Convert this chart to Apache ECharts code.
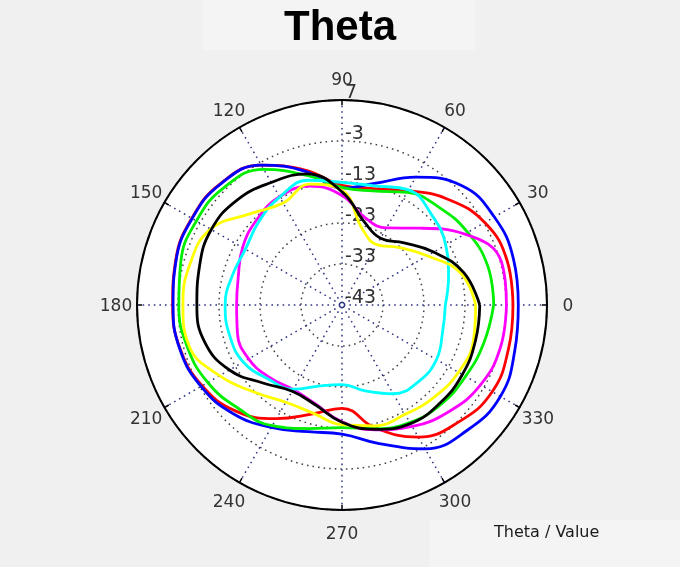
<!DOCTYPE html>
<html><head><meta charset="utf-8">
<script src="https://cdn.jsdelivr.net/npm/echarts@6/dist/echarts.min.js"></script>
<style>html,body{margin:0;padding:0;background:#f0f0f0;}#c{width:680px;height:567px;}</style>
</head><body><div id="c"></div>
<script>
const angles = [0,15,30,45,60,75,90,105,120,135,150,165,180,195,210,225,240,255,270,285,300,315,330,345];
const blue    = [0, 0.3, -0.1, -1.8, -7.0, -12.3, -14.5, -9.3, -3.6, -1.2, -0.8, -1.1, -1.8, -2.0, -3.3, -5.5, -8.5, -11, -11.5, -8, -2.5, 0.2, 1.6, 0.6];
const red     = [-1.3, -1.3, -2.8, -6.5, -10.8, -13.6, -13.8, -9, -3.6, -1.1, -0.7, -1.0, -1.7, -2.1, -3.6, -6.4, -11, -15.5, -17.8, -12, -5.8, -2.7, -0.7, -1.0];
const green   = [-6.0, -6.2, -7.6, -9.4, -11.3, -14.2, -14.3, -10.3, -4.8, -2.4, -2.0, -2.3, -3.2, -3.9, -5.2, -7.3, -9.0, -11.8, -13.1, -11.8, -9.9, -8.8, -8.2, -7.2];
const magenta = [-2.9, -2.7, -8.4, -16.5, -21.3, -21, -16.3, -13, -12.5, -13.6, -15.0, -16.8, -17.3, -16.6, -16.7, -18, -19.2, -18, -14.5, -11.5, -8.8, -6.2, -4.0, -3.0];
const yellow  = [-10.4, -13, -19, -23.2, -26, -23.8, -15, -12.5, -14.3, -11.5, -6.0, -4.6, -4.2, -4.4, -8.5, -12.9, -15.6, -15.7, -13.8, -12.5, -12.2, -11.2, -10.2, -9.8];
const cyan    = [-17.8, -16.1, -13.8, -12, -10.6, -12.9, -13.1, -11.5, -12.6, -14.3, -15.8, -15.3, -14.5, -14.6, -15.2, -17.5, -19.3, -22.6, -23.6, -21.3, -18, -16.6, -16.4, -17.6];
const black   = [-9.4, -12.3, -17.2, -21.6, -24.2, -22, -15.4, -9.9, -8.5, -6.8, -6.2, -7.0, -7.6, -8.3, -11.3, -16, -18.7, -17.8, -14.4, -11.6, -9.6, -9.2, -9.1, -9.3];
const radiusMin = -43, radiusMax = 7, radiusStep = 10;
const angleStep = 30;

const seriesDefs = [
  ['red', red, '#ff0000'],
  ['blue', blue, '#0000ff'],
  ['green', green, '#00ee00'],
  ['magenta', magenta, '#ff00ff'],
  ['cyan', cyan, '#00ffff'],
  ['yellow', yellow, '#ffff00'],
  ['black', black, '#000000']
];
function closed(vals){
  const d = angles.map((a,i)=>[vals[i], a]);
  d.push([vals[0], 360]);
  return d;
}
const chart = echarts.init(document.getElementById('c'));
const center = [342, 305], R = 205;
const dotted = [1.6, 4];
const font = '"DejaVu Sans", sans-serif';
const lab = {align:'center', verticalAlign:'middle', color:'#333', fontSize:17, fontFamily:font};
function labelStyle(v){
  if (v === 0 || v === 180) return 'h';
  if (v === 90) return 'vt';
  if (v === 270) return 'vb';
  if (v === 30 || v === 150) return 'd1t';
  if (v === 210 || v === 330) return 'd1b';
  if (v === 60 || v === 120) return 'd2t';
  return 'd2b';
}
chart.setOption({
  backgroundColor: '#f0f0f0',
  animation: false,
  graphic: [
    {type:'rect', shape:{x:203,y:0,width:272,height:50}, style:{fill:'#f4f4f4'}, z:-10},
    {type:'rect', shape:{x:430,y:520,width:250,height:47}, style:{fill:'#f4f4f4'}, z:-10},
    {type:'circle', shape:{cx:center[0], cy:center[1], r:R}, style:{fill:'#ffffff'}, z:-5},
    {type:'text', left: 494, top: 525, style:{text:'Theta / Value', fill:'#1a1a1a', font:'16px ' + font}}
  ],
  title: {text:'Theta', left:'center', top: 2, textStyle:{fontSize:42, fontWeight:'bold', color:'#000', fontFamily:'"Liberation Sans", Arial, sans-serif'}},
  polar: [{center: center, radius: R}, {center: center, radius: R}],
  angleAxis: [{
    polarIndex: 0, type:'value', min:0, max:360, interval: angleStep, startAngle:0, clockwise:false,
    axisLine:{show:true, lineStyle:{color:'#000', width:2}},
    axisTick:{show:true, inside:true, length:5, lineStyle:{color:'#000', width:1.5}},
    axisLabel:{margin:5, color:'#333', fontSize:17, fontFamily:font,
      formatter: v => v === 360 ? '' : '{' + labelStyle(v) + '|' + v + '}',
      rich:{
        h: Object.assign({width:32, height:20, padding:[3,0,0,0]}, lab),
        vt: Object.assign({width:32, height:28}, lab),
        vb: Object.assign({width:32, height:40}, lab),
        d1t: Object.assign({width:28, height:12}, lab),
        d1b: Object.assign({width:28, height:20}, lab),
        d2t: Object.assign({width:16, height:24}, lab),
        d2b: Object.assign({width:16, height:32}, lab)
      }},
    splitLine:{show:true, lineStyle:{type:dotted, color:'#2e3580', width:1.5}}
  },{
    polarIndex: 1, type:'value', min:0, max:360, startAngle:90, clockwise:false, show:false
  }],
  radiusAxis: [{
    polarIndex: 0, type:'value', min: radiusMin, max: radiusMax, interval: radiusStep,
    axisLine:{show:false}, axisTick:{show:false}, axisLabel:{show:false},
    splitLine:{show:true, lineStyle:{type:dotted, color:'#444', width:1.5}}
  },{
    polarIndex: 1, type:'value', min: radiusMin, max: radiusMax, interval: radiusStep,
    axisLine:{show:false}, axisTick:{show:false}, splitLine:{show:false},
    axisLabel:{show:true, margin:-3, align:'left', verticalAlign:'bottom', lineHeight:14, color:'#333', fontSize:19, fontFamily:font}
  }],
  series: seriesDefs.map(([name, vals, color]) => ({
    name, type:'line', coordinateSystem:'polar', polarIndex:0,
    data: closed(vals), smooth: 0.45, showSymbol:false, symbol:'none',
    lineStyle:{color, width:2.8}, z: 3
  }))
});
</script></body></html>
